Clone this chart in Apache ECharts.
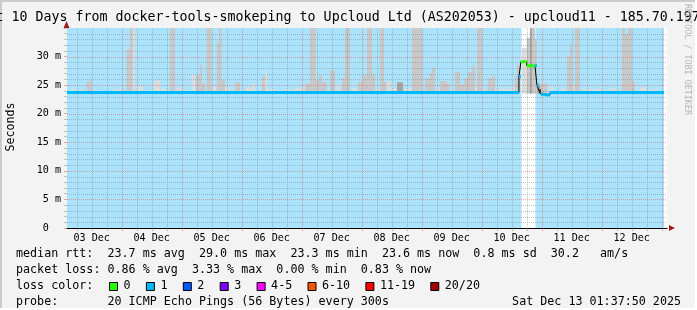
<!DOCTYPE html>
<html><head><meta charset="utf-8">
<script src="https://cdn.jsdelivr.net/npm/echarts@6/dist/echarts.min.js"></script>
<style>html,body{margin:0;padding:0;background:#f3f3f3;}#c{width:697px;height:310px;}</style>
</head><body><div id="c"></div>
<script>
// ---- data (x in hours since 03 Dec 00:00) ----
const xMin = 2.12, xMax = 242.12;
const yMax = 35;
const dayLabels = ['03 Dec','04 Dec','05 Dec','06 Dec','07 Dec','08 Dec','09 Dec','10 Dec','11 Dec','12 Dec'];
const labelHours = [12, 36, 60, 84, 108, 132, 156, 180, 204, 228];
const yTickValues = [0, 5, 10, 15, 20, 25, 30];
// periods with data (blue canvas)
const coverage = [[2.12, 183.9], [189.5, 240.9]];
// smoke: [startHour, endHour, topValue]
const smokeLight = [
  [4.0,5.3,24.3],[7.3,8.1,24.4],[12.5,13.3,24.3],[21.3,24.1,24.3],
  [28.4,29.3,35],[30.1,32.5,24.8],[36.9,39.3,25.8],[39.7,41.3,24.4],[46.0,48.0,24.6],
  [52.0,53.3,26.9],[60.0,62.0,24.7],[65.3,67.3,24.6],[73.7,76.1,24.6],[76.1,77.3,25.1],
  [81.3,82.1,27.6],[82.1,85.3,24.3],[89.3,91.3,24.3],[92.5,96.1,24.4],[96.1,97.3,24.7],
  [110.1,111.3,25.0],[116.1,118.1,24.4],[125.7,127.3,24.4],[130.1,131.7,25.7],[132.1,134.1,24.4],
  [137.3,140.1,24.4],[150.1,151.3,24.4],[165.3,166.1,24.6],[168.1,169.3,24.4],
  [173.3,179.3,24.3],[179.3,181.3,24.7],[184.0,186.0,31.5],
  [195.1,196.7,24.7],[199.3,201.3,24.4],[204.1,205.3,24.9],[208.1,215.3,24.3],[215.3,217.3,24.3],
  [219.3,222.5,24.4],[231.3,234.1,24.6],[236.1,238.1,24.3]
];
const smokeMid = [
  [10.0,11.2,25.6],[11.2,12.0,25.9],
  [26.0,27.3,31.3],[27.3,28.4,35],
  [43.3,45.3,35],
  [53.7,55.3,26.8],[55.3,56.1,28.6],[56.1,57.3,25.3],
  [58.0,60.0,35],
  [62.0,62.9,32.5],[62.9,64.0,35],[64.0,65.3,25.9],
  [69.3,71.3,25.5],
  [80.1,81.3,26.6],
  [97.3,99.3,25.3],[99.3,101.6,35],[101.6,102.9,25.9],[102.9,104.0,26.8],[104.0,106.0,25.6],
  [107.3,109.3,27.6],
  [112.1,113.3,26.2],[113.3,115.3,35],
  [118.5,120.5,25.6],[120.5,122.1,26.8],[122.1,124.1,35],[124.1,125.3,26.8],
  [127.3,128.9,35],[128.9,129.7,25.6],
  [140.1,144.1,35],
  [145.3,147.3,26.2],[147.3,148.1,27.1],[148.1,149.3,28.1],
  [151.3,154.1,25.7],[154.1,155.3,25.3],
  [157.3,159.3,27.3],[159.3,161.0,25.1],[161.0,162.5,26.2],[162.5,164.0,27.3],[164.0,165.3,28.4],
  [166.1,168.1,35],
  [170.5,172.0,26.2],[172.0,173.3,26.7],
  [181.3,182.1,26.6],[182.1,183.3,28.6],
  [186.0,187.3,33.3],[188.1,189.3,35],[189.3,190.1,33],
  [190.1,194.1,25.3],
  [202.1,203.3,30.0],[203.3,204.1,32.3],
  [205.3,207.3,35],
  [224.1,225.3,35],[225.3,226.5,34],[226.5,228.1,35],[228.1,229.3,25.6]
];
const smokeDark = [[134.1,136.5,25.5],[187.3,188.1,35],[190.3,191.5,24.8]];
const smokeBase = 23.5;
// median rtt (step segments): start hour, value, loss colour index (-1 = dark)
const medianStart = [2.12, 182.9, 183.7, 186.0, 189.3, 190.1, 190.9, 191.7, 193.3, 195.3];
const medianValue = [23.7, 26.5, 29.1, 28.4, 28.4, 25.0, 24.0, 23.4, 23.3, 23.7];
const medianLoss  = [1, 1, 0, 0, 1, 1, -1, 1, 1, 1];
const dataEnd = 240.9;
// legend
const rttStats = ['23.7 ms avg','29.0 ms max','23.3 ms min','23.6 ms now','0.8 ms sd','30.2   am/s'];
const lossStats = ['0.86 % avg','3.33 % max','0.00 % min','0.83 % now'];
const lossLabels = ['0','1','2','3','4-5','6-10','11-19','20/20'];
const lossColors = ['#26ff00','#00b8ff','#0059ff','#7e00ff','#ff00ff','#ff5500','#ff0000','#a10000'];
const probeText = '20 ICMP Echo Pings (56 Bytes) every 300s';
const dateText = 'Sat Dec 13 01:37:50 2025';
const titleText = 't 10 Days from docker-tools-smokeping to Upcloud Ltd (AS202053) - upcloud11 - 185.70.197';

// ---- rendering ----
const MONO = "'DejaVu Sans Mono', monospace";
const minorColor = 'rgba(120,120,120,0.42)';
const majorColor = 'rgba(225,80,80,0.5)';
const xGridHours = []; for (let h = 6; h <= 240; h += 6) xGridHours.push(h);
const yGridValues = []; for (let v = 1; v < yMax; v++) yGridValues.push(v);

function rangeRect(color) {
  return function (params, api) {
    const p0 = api.coord([api.value(0), api.value(2)]);
    const p1 = api.coord([api.value(1), smokeBase]);
    return {type:'rect', shape:{x:p0[0], y:p0[1], width:p1[0]-p0[0], height:p1[1]-p0[1]}, style:{fill:color}};
  };
}
const medianSegs = medianStart.map((s, i) => [s, i + 1 < medianStart.length ? medianStart[i+1] : dataEnd, medianValue[i], medianLoss[i]]);
const medianLine = medianStart.map((s, i) => [s, medianValue[i]]).concat([[dataEnd, medianValue[medianValue.length-1]]]);

const option = {
  animation: false,
  backgroundColor: '#f3f3f3',
  grid: {left: 67, top: 28, width: 600, height: 200, show: true, backgroundColor: '#ffffff', borderWidth: 0, outerBoundsMode: 'none'},
  xAxis: {
    type: 'value', min: xMin, max: xMax,
    axisLine: {show: true, lineStyle: {color: '#000', width: 1}},
    axisTick: {show: false}, splitLine: {show: false}, minorTick: {show: false},
    axisLabel: {customValues: labelHours, formatter: v => dayLabels[labelHours.indexOf(v)],
      fontFamily: MONO, fontSize: 10.1, color: '#000', margin: 5}
  },
  yAxis: {
    type: 'value', min: 0, max: yMax, interval: 5,
    axisLine: {show: true, lineStyle: {color: '#000', width: 1}},
    axisTick: {show: true, length: 3, lineStyle: {color: majorColor}},
    minorTick: {show: true, splitNumber: 5, length: 3, lineStyle: {color: minorColor}},
    splitLine: {show: false}, minorSplitLine: {show: false},
    axisLabel: {formatter: v => (yTickValues.indexOf(v) < 0 ? '' : (v === 0 ? '0  ' : v + ' m')),
      fontFamily: MONO, fontSize: 10.1, color: '#000', margin: 6}
  },
  series: [
    {type:'custom', z: 1, silent: true, data: coverage,
      renderItem: (params, api) => {
        const p0 = api.coord([api.value(0), yMax]); const p1 = api.coord([api.value(1), 0]);
        return {type:'rect', shape:{x:p0[0], y:p0[1], width:p1[0]-p0[0], height:p1[1]-p0[1]}, style:{fill:'#abe3fd'}};
      }},
    {type:'custom', z: 2, silent: true, data: smokeLight, renderItem: rangeRect('#dcdcdc')},
    {type:'custom', z: 3, silent: true, data: smokeMid, renderItem: rangeRect('#c8c8c8')},
    {type:'custom', z: 3, silent: true, data: smokeDark, renderItem: rangeRect('#a4a4a4')},
    {type:'custom', z: 4, silent: true, data: yGridValues.map(v => [v]),
      renderItem: (params, api) => {
        const v = api.value(0);
        const a = api.coord([xMin, v]), b = api.coord([xMax, v]);
        const y = Math.round(a[1]) + 0.5;
        return {type:'line', shape:{x1:a[0], y1:y, x2:b[0], y2:y},
          style:{stroke: v % 5 === 0 ? majorColor : minorColor, lineWidth:1, lineDash:[1,1]}};
      }},
    {type:'custom', z: 4, silent: true, data: xGridHours.map(h => [h]),
      renderItem: (params, api) => {
        const h = api.value(0);
        const a = api.coord([h, yMax]), b = api.coord([h, 0]);
        const x = Math.round(a[0]) + 0.5;
        const c = h % 24 === 0 ? majorColor : minorColor;
        return {type:'group', children:[
          {type:'line', shape:{x1:x, y1:a[1], x2:x, y2:b[1]}, style:{stroke:c, lineWidth:1, lineDash:[1,1]}},
          {type:'line', shape:{x1:x, y1:b[1], x2:x, y2:b[1]+3}, style:{stroke:c, lineWidth:1}}
        ]};
      }},
    {type:'line', z: 5, silent: true, data: medianLine, step: 'end', symbol: 'none',
      lineStyle: {color: '#000', width: 1}},
    {type:'custom', z: 6, silent: true, data: medianSegs,
      renderItem: (params, api) => {
        const a = api.coord([api.value(0), api.value(2)]), b = api.coord([api.value(1), api.value(2)]);
        const li = api.value(3);
        return {type:'line', shape:{x1:a[0], y1:a[1], x2:b[0], y2:b[1]},
          style:{stroke: li < 0 ? '#2a2a2a' : lossColors[li], lineWidth:3, lineCap:'butt'}};
      }}
  ],
  graphic: []
};

const g = option.graphic;
function txt(text, x, y, size, align, fill) {
  g.push({type:'text', x: x, y: y, silent: true, style:{text: text, fontFamily: MONO, fontSize: size,
    fill: fill || '#000', textAlign: align || 'left', textVerticalAlign: 'middle'}});
}
// frame
g.push({type:'rect', shape:{x:0,y:0,width:697,height:2}, style:{fill:'#cbcbcb'}, silent:true});
g.push({type:'rect', shape:{x:0,y:0,width:2,height:310}, style:{fill:'#cbcbcb'}, silent:true});
g.push({type:'rect', shape:{x:695,y:0,width:2,height:310}, style:{fill:'#ffffff'}, silent:true});
g.push({type:'rect', shape:{x:0,y:308,width:697,height:2}, style:{fill:'#ffffff'}, silent:true});
// title
txt(titleText, -4.6, 18, 13.3, 'left');
// vertical labels
g.push({type:'text', x: 11, y: 127, rotation: Math.PI/2, silent:true,
  style:{text:'Seconds', fontFamily: MONO, fontSize: 11.6, fill:'#000', textAlign:'center', textVerticalAlign:'middle'}});
g.push({type:'text', x: 687, y: 4, rotation: -Math.PI/2, silent:true,
  style:{text:'RRDTOOL / TOBI OETIKER', fontFamily: MONO, fontSize: 8.4, fill:'#b4b4b4', textAlign:'left', textVerticalAlign:'middle'}});
// axis arrows
g.push({type:'polygon', shape:{points:[[63.5,28],[69.5,28],[66.5,21]]}, style:{fill:'#a02020'}, silent:true});
g.push({type:'polygon', shape:{points:[[669,225],[669,231],[675,228]]}, style:{fill:'#a02020'}, silent:true});
// legend
const LF = 11.7;
txt('median rtt:  ' + rttStats.join('  '), 16, 254, LF);
txt('packet loss: ' + lossStats.join('  '), 16, 270, LF);
txt('loss color:', 16, 286, LF);
let bx = 109;
lossLabels.forEach((lab, i) => {
  g.push({type:'rect', shape:{x: bx + 0.5, y: 282.5, width: 8, height: 8}, silent:true,
    style:{fill: lossColors[i], stroke:'#000', lineWidth:1}});
  txt(lab, bx + 14.5, 286, LF);
  bx += 29.9 + 7 * lab.length;
});
txt('probe:       ' + probeText, 16, 302, LF);
txt(dateText, 681, 302, LF, 'right');

const chart = echarts.init(document.getElementById('c'), null, {renderer: 'canvas'});
chart.setOption(option);
</script></body></html>
